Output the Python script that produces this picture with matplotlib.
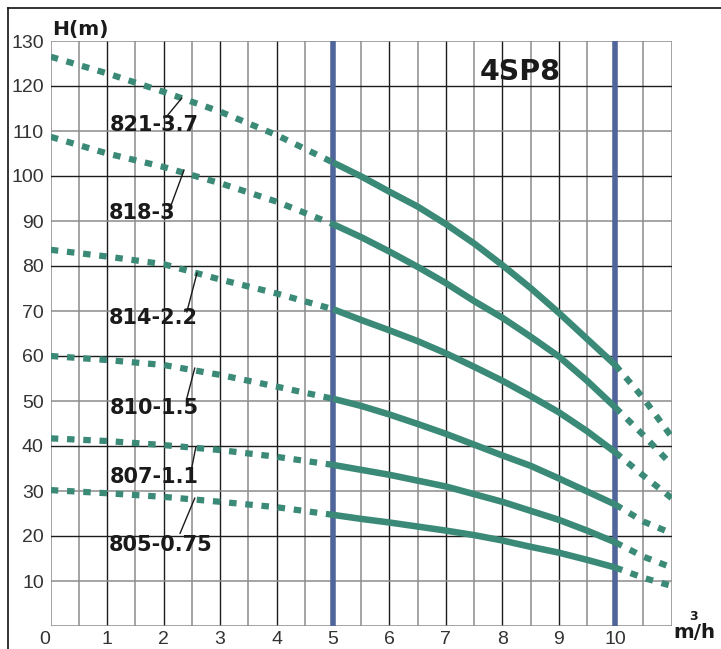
import numpy as np
import matplotlib
matplotlib.use("Agg")
import matplotlib.pyplot as plt
from matplotlib.lines import Line2D
from matplotlib.transforms import ScaledTranslation

# flow points (m3/h) shared by all curves
flow = [0, 1, 2, 3, 4, 5, 5.5, 6, 6.5, 7, 7.5, 8, 8.5, 9, 9.5, 10, 10.5, 11]

# head (m) at the flow points above
h821 = [126.5, 122.8, 118.7, 114.3, 109.1, 103.0, 99.9, 96.5, 93.2, 89.3, 85.0, 80.2, 75.1, 69.6, 63.8, 58.0, 50.6, 42.0]
h818 = [108.7, 105.0, 102.0, 98.4, 94.3, 89.3, 86.4, 83.2, 79.8, 76.2, 72.2, 68.5, 64.3, 59.9, 54.5, 48.6, 42.4, 35.8]
h814 = [83.6, 82.1, 80.4, 77.0, 73.9, 70.4, 68.0, 65.7, 63.3, 60.6, 57.6, 54.5, 51.1, 47.5, 43.3, 38.6, 33.4, 28.4]
h810 = [60.0, 59.1, 58.0, 55.8, 53.2, 50.5, 48.9, 47.0, 44.9, 42.7, 40.3, 37.9, 35.6, 32.8, 29.9, 27.0, 23.2, 20.6]
h807 = [41.7, 41.1, 40.2, 39.1, 37.6, 35.8, 34.7, 33.6, 32.3, 31.0, 29.3, 27.6, 25.6, 23.6, 21.2, 18.6, 15.4, 13.0]
h805 = [30.2, 29.5, 28.7, 27.6, 26.4, 24.7, 23.8, 23.0, 22.1, 21.2, 20.2, 19.0, 17.6, 16.3, 14.7, 13.0, 10.7, 8.9]

models = ["821-3.7", "818-3", "814-2.2", "810-1.5", "807-1.1", "805-0.75"]
heads = [h821, h818, h814, h810, h807, h805]

# recommended working range
range_lo = 5
range_hi = 10

x_ticks = list(range(0, 11))
y_ticks = list(range(10, 140, 10))

teal = "#3b8a77"
blue = "#50669a"

fig = plt.figure(figsize=(7.21, 6.49), dpi=100)
ax = fig.add_axes([50.8 / 721, 23 / 649, 620.9 / 721, 585 / 649])
ax.set_xlim(0, 11)
ax.set_ylim(0, 130)

# grid: dark at integers / every 20 m, grey in between
for x in np.arange(0, 11.01, 0.5):
    dark = x % 1 == 0 and 0 < x < 11
    ax.axvline(x, color="#1c1c1c" if dark else "#8c8c8c", lw=1.0 if dark else 1.1, zorder=1)
for y in range(0, 131, 10):
    dark = y % 20 == 0 and 0 < y < 130
    ax.axhline(y, color="#1c1c1c" if dark else "#8c8c8c", lw=1.0 if dark else 1.1, zorder=1)

ax.axvline(range_lo, color=blue, lw=4.0, zorder=2)
ax.axvline(range_hi, color=blue, lw=4.0, zorder=2)

i_lo = flow.index(range_lo)
i_hi = flow.index(range_hi)
dots = (0, (1.2, 1.4))
for h in heads:
    ax.plot(flow[:i_lo + 1], h[:i_lo + 1], color=teal, lw=4.5, linestyle=dots,
            dash_capstyle="butt", zorder=3)
    ax.plot(flow[i_lo:i_hi + 1], h[i_lo:i_hi + 1], color=teal, lw=4.7,
            solid_capstyle="butt", solid_joinstyle="round", zorder=4)
    ax.plot(flow[i_hi:], h[i_hi:], color=teal, lw=4.5, linestyle=dots,
            dash_capstyle="butt", zorder=3)

# model labels with leader lines
label_pos = [(1.05, 111.3), (1.02, 91.7), (1.02, 68.4), (1.04, 48.4), (1.04, 33.2), (1.02, 18.0)]
leaders = [((2.05, 113.2), (2.32, 117.3)), ((2.11, 92.8), (2.36, 101.3)),
           ((2.41, 69.8), (2.59, 78.4)), ((2.41, 50.6), (2.55, 57.3)),
           ((2.49, 34.7), (2.57, 39.8)), ((2.29, 20.6), (2.55, 28.4))]
for name, (tx, ty), (p0, p1) in zip(models, label_pos, leaders):
    ax.plot([p0[0], p1[0]], [p0[1], p1[1]], color="#1a1a1a", lw=1.0, zorder=5)
    ax.text(tx, ty, name, fontsize=15, fontweight="bold", family="DejaVu Sans",
            color="#1a1a1a", ha="left", va="center", zorder=6)

ax.text(8.31, 123.2, "4SP8", fontsize=20.5, fontweight="bold", family="DejaVu Sans",
        color="#1a1a1a", ha="center", va="center", zorder=6)

for s in ax.spines.values():
    s.set_visible(False)
ax.tick_params(length=0)
ax.set_xticks(x_ticks)
ax.set_yticks(y_ticks)
ax.set_xticklabels([str(v) for v in x_ticks], fontsize=14, family="Liberation Sans", color="#333333")
ax.set_yticklabels([str(v) for v in y_ticks], fontsize=14, family="Liberation Sans", color="#333333")
ax.tick_params(axis="x", pad=3.5)
ax.tick_params(axis="y", pad=5)
lbl0 = ax.get_xticklabels()[0]
lbl0.set_transform(lbl0.get_transform() + ScaledTranslation(-0.06, 0, fig.dpi_scale_trans))

# axis titles
fig.text(51.7 / 721, 1 - 29 / 649, "H(m)", fontsize=14.6, fontweight="bold",
         family="DejaVu Sans", color="#1a1a1a", ha="left", va="center")
fig.text(673 / 721, 1 - 632 / 649, "m/h", fontsize=14.3, fontweight="bold",
         family="DejaVu Sans", color="#1a1a1a", ha="left", va="center")
fig.text(693 / 721, 1 - 616 / 649, "3", fontsize=9, fontweight="bold",
         family="DejaVu Sans", color="#1a1a1a", ha="center", va="center")

# outer frame (left and top edges)
fig.add_artist(Line2D([8 / 721, 8 / 721], [0, 1 - 8 / 649], color="#111111", lw=1.2))
fig.add_artist(Line2D([8 / 721, 1], [1 - 8 / 649, 1 - 8 / 649], color="#111111", lw=1.2))

fig.savefig("out.png", dpi=100)
